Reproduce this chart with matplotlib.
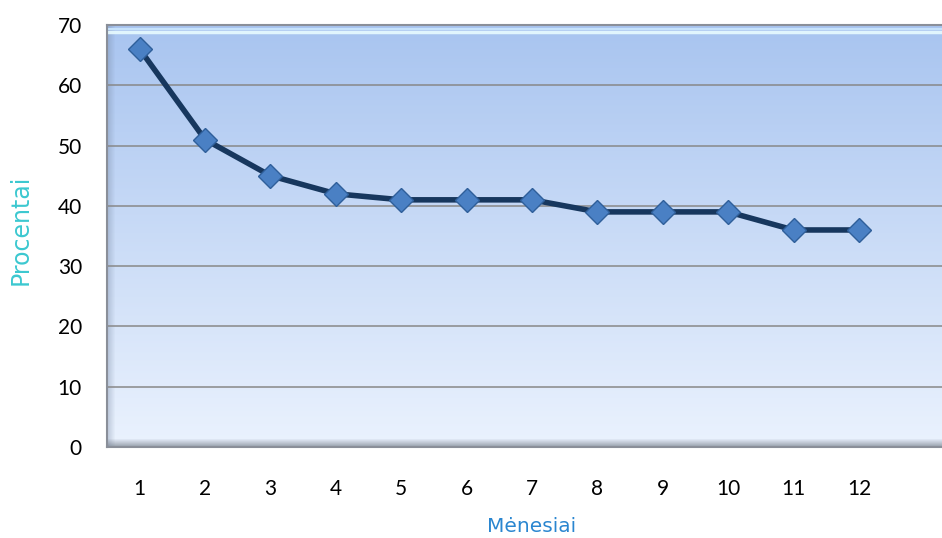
import numpy as np
import matplotlib.pyplot as plt
from matplotlib.patches import Rectangle

# Monthly percentages
months = [1, 2, 3, 4, 5, 6, 7, 8, 9, 10, 11, 12]
percent = [66, 51, 45, 42, 41, 41, 41, 39, 39, 39, 36, 36]
month_labels = [str(m) for m in months]
y_ticks = [0, 10, 20, 30, 40, 50, 60, 70]

plt.rcParams['font.family'] = ['Lato', 'DejaVu Sans']

fig = plt.figure(figsize=(9.42, 5.38), dpi=100)
# plot area runs on past the right edge of the figure
ax = fig.add_axes([107 / 942, 91 / 538, 850 / 942, 422 / 538])

# vertical gradient background
grad = np.linspace(0, 1, 256).reshape(-1, 1)
top = np.array([0.66, 0.77, 0.94])
bottom = np.array([0.92, 0.95, 0.995])
img = bottom + (top - bottom) * grad
ax.imshow(img[:, None, :].repeat(2, axis=1), extent=[0, 1, 0, 1], origin='lower',
          aspect='auto', transform=ax.transAxes, zorder=0)

# bevel: dark left and bottom strips, light highlight along the top
for i in range(8):
    a = 0.35 * (1 - i / 8)
    ax.add_patch(Rectangle((i / 850, 0), 1 / 850, 1, transform=ax.transAxes,
                           color='#6f7f99', alpha=a, lw=0, zorder=1))
    ax.add_patch(Rectangle((0, i / 422), 1, 1 / 422, transform=ax.transAxes,
                           color='#5a6370', alpha=a * 1.6, lw=0, zorder=1))
ax.axhline(68.8, color='#e8fbff', lw=2.5, alpha=0.9, zorder=1)
ax.axhline(69.4, color='#c6e2fb', lw=1.5, zorder=1)

ax.set_xlim(0.5, 13.5)
ax.set_ylim(0, 70)
ax.set_yticks(y_ticks)
ax.set_xticks(months)
ax.set_xticklabels(month_labels)
ax.grid(axis='y', color='#888888', lw=1.1, zorder=2)
ax.tick_params(length=0, labelsize=15, colors='black')
ax.tick_params(axis='y', pad=18)
ax.tick_params(axis='x', pad=23)

for s in ax.spines.values():
    s.set_color('#8a8f99')
    s.set_linewidth(1.5)

ax.plot(months, percent, color='#17375e', lw=4, zorder=3,
        marker='D', markersize=12, markerfacecolor='#4a80c4',
        markeredgecolor='#2f5f9a', markeredgewidth=1)

ax.set_ylabel('Procentai', color='#3cc8d0', fontsize=17, family='DejaVu Sans')
ax.yaxis.set_label_coords(-0.088, 0.514)
ax.set_xlabel('Mėnesiai', color='#2a86d0', fontsize=14.5, family='DejaVu Sans')
ax.xaxis.set_label_coords(0.5, -0.165)

fig.savefig('out.png', dpi=100)
